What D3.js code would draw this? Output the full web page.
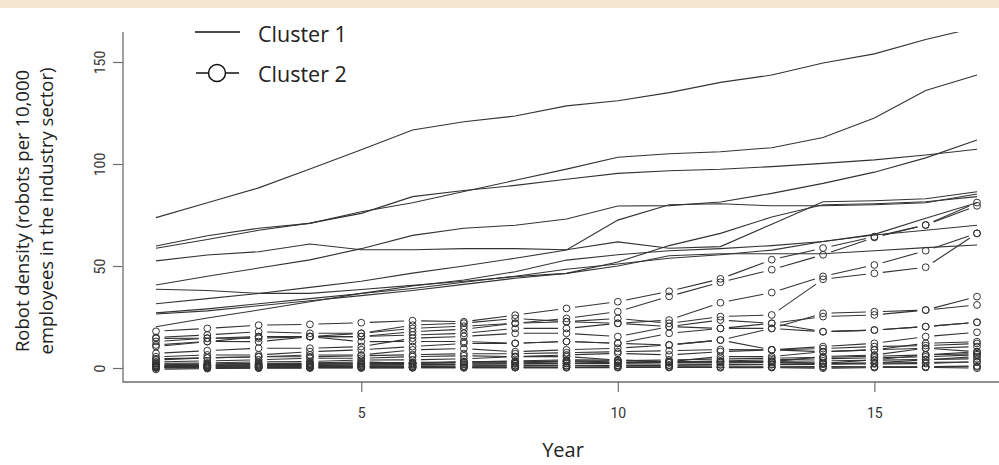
<!DOCTYPE html>
<html>
<head>
<meta charset="utf-8">
<script src="https://cdn.jsdelivr.net/npm/d3@7"></script>
<style>
    body { margin: 0; background: #fff; }
    svg { display: block; }
</style>
</head>
<body>
<svg id="chart" width="999" height="465"></svg>
<script>
// Years on the x axis
const years = d3.range(1, 18);
const xTicks = [5, 10, 15];
const yTicks = [0, 50, 100, 150];

// --- Cluster 1: plain lines ---
const c1a = [73.7, 81, 88.3, 97.5, 107, 116.7, 120.7, 123.5, 128.5, 131, 135, 140, 143.6, 149.5, 154, 161, 167];
const c1b = [59.8, 64.8, 68.5, 70.9, 76.6, 81, 86.5, 92, 97.5, 103.3, 105, 106, 108, 113, 122.5, 136, 143.6];
const c1c = [58.7, 63, 67.5, 71, 75.8, 84, 87, 89.5, 92.5, 95.4, 96.7, 97.4, 98.7, 100.3, 102, 104.4, 107.2];
const c1d = [40.7, 45, 49, 53, 58.5, 65, 68.5, 70, 73, 79.4, 79.6, 81.4, 85.6, 90.5, 96, 103, 111.8];
const c1e = [52.5, 55.4, 57, 60.8, 58, 58, 58.5, 58.5, 58, 61.8, 58.7, 59.5, 70.5, 81.5, 82, 83, 86.4];
const c1f = [38.6, 38, 36.6, 36.6, 38.5, 40.5, 42.5, 44.8, 46.4, 50, 55, 56, 56, 56, 57.5, 59, 60.3];
const c1g = [31.5, 34, 36.5, 39.5, 42.5, 46.5, 50, 53.8, 57.8, 72.5, 80, 80.5, 79.5, 79.5, 80, 81, 85.3];
const c1h = [27, 29, 31.5, 34, 36.5, 39, 42, 45, 48.4, 51, 53.8, 55.5, 57.8, 62, 65.2, 67.5, 70];
const c1i = [26.5, 28, 30.5, 33, 35.5, 38, 41, 44, 46.4, 52, 60, 66, 74, 80, 80.5, 81.5, 84];
const c1j = [20.2, 24.5, 28.4, 32.5, 36.6, 40.2, 43.1, 47.2, 52.9, 55.5, 57.5, 58.5, 60, 62, 65.5, 73.4, 81];
const cluster1 = [c1a, c1b, c1c, c1d, c1e, c1f, c1g, c1h, c1i, c1j];

// --- Cluster 2: points joined by broken lines ---
const c2a = [18, 19.4, 21, 21.4, 22.2, 23.2, 22.7, 25.9, 29.2, 32.5, 37.6, 43.7, 53.1, 58.8, 64.4, 70.1, 81.1];
const c2b = [15, 16.2, 17.8, 17, 17, 19.4, 20.5, 21.9, 24.3, 27.6, 35.1, 42, 48.2, 55.5, 64, 70.1, 79.5];
const c2c = [11.3, 13, 12.9, 15.4, 15.4, 16.2, 17, 19.4, 19.4, 21.9, 23.5, 32, 37, 44.9, 50.5, 57.5, 66];
const c2d = [10.5, 12.9, 15.4, 15.4, 15.4, 17.8, 19, 21.9, 22.7, 24.3, 21.9, 25.2, 26, 43.5, 46.4, 49.4, 66];
const c2e = [7.2, 8.5, 9.7, 9.7, 10.5, 14.6, 15.5, 17, 17, 15.4, 20.3, 23.5, 21.9, 25.2, 26, 28.4, 35];
const c2f = [5.5, 6.4, 6.4, 8, 8.9, 10.5, 12, 12.1, 13, 12.1, 17, 19.4, 19.4, 26.8, 27.6, 28.4, 30.9];
const c2g = [3.9, 5, 5.5, 6.4, 6.4, 8.9, 9.5, 8, 8.9, 9.7, 11.3, 13.7, 19.4, 17.8, 18.6, 20.3, 22.4];
const c2h = [3, 3.5, 4, 4.8, 4.8, 5.6, 6, 5.6, 6.4, 7.2, 6.4, 8, 8.9, 10.5, 12.1, 15.4, 17.5];
const c2i = [2.3, 2.5, 3, 3.2, 3.9, 4, 4.5, 5.6, 5.6, 3.9, 3.1, 5.6, 5.6, 8, 8.9, 12.1, 12.9];
const c2j = [1.5, 2, 2.3, 2.5, 3, 2.3, 3, 3.5, 4, 3.9, 3.1, 3.1, 3.1, 5.6, 6.4, 9.7, 10.5];
const c2k = [1, 1.2, 1.5, 1.8, 2, 2.3, 2.5, 2.5, 3, 2.5, 3.1, 3.1, 3.1, 2.3, 4, 6.4, 8];
const c2l = [0.6, 0.8, 1, 1.2, 1.4, 1.5, 1.8, 2, 2.2, 2.3, 2.5, 2.5, 2.7, 2.3, 2.5, 4, 5.6];
const c2m = [0.3, 0.4, 0.5, 0.6, 0.7, 0.8, 0.9, 1, 1.1, 1.2, 1.3, 1.5, 1.6, 1.8, 2, 2.2, 3.1];
const c2n = [0.1, 0.1, 0.2, 0.2, 0.3, 0.3, 0.4, 0.5, 0.5, 0.6, 0.6, 0.6, 0.6, 0.8, 0.6, 0.6, 1];
const c2o = [-0.7, -0.3, 0, 0, 0, 0.1, 0.1, 0.2, 0.2, 0.3, 0.3, 0.3, 0.4, 0.4, 0.5, 0.5, 0.6];
const c2p = [0, 0, 0, 0.1, 0.1, 0.1, 0.2, 0.2, 0.2, 0.2, 0.3, 0.2, 0.2, -0.1, 0.2, 0.3, -0.1];
const c2q = [2, 1.8, 2, 2.2, 2.5, 2.7, 3, 3.2, 3.5, 3, 3, 3.5, 4, 4.5, 5, 5.5, 6.5];
const c2r = [4.5, 5, 5.5, 5.5, 6, 6.5, 7, 7, 7.5, 8, 8.5, 9, 8.9, 9.5, 10.5, 11, 12];
const c2s = [13, 14.6, 14.6, 15.4, 12.9, 13, 13, 12.1, 13, 12.1, 11.3, 13.7, 8.9, 8, 8.9, 9.7, 8];
const c2t = [14.5, 14.6, 15.4, 15.4, 17, 21, 22, 24.3, 22.7, 21.9, 20.3, 19.4, 21.9, 17.8, 18.6, 20.3, 22.4];
const c2u = [0.8, 1, 1.1, 1.3, 1.5, 1.7, 1.9, 2.1, 2.3, 2.6, 2.8, 3, 3.3, 3.5, 3.8, 4.2, 4.5];
const c2v = [1.2, 1.4, 1.6, 1.8, 2.2, 2.4, 2.8, 3, 3.3, 3.6, 4, 4.4, 4.8, 5.2, 5.8, 6.4, 7];
const c2w = [0.4, 0.5, 0.6, 0.7, 0.8, 0.9, 1, 1.2, 1.3, 1.4, 1.5, 1.7, 1.9, 2.1, 2.4, 2.7, 3];
const cluster2 = [c2a, c2b, c2c, c2d, c2e, c2f, c2g, c2h, c2i, c2j, c2k, c2l,
                  c2m, c2n, c2o, c2p, c2q, c2r, c2s, c2t, c2u, c2v, c2w];

const LINE = '#333';
const AXIS = '#6e6e6e';
const NARROW = '"Liberation Sans Narrow", "Roboto", sans-serif';
const LABEL = '"Open Sans", "Noto Sans", sans-serif';

const svg = d3.select('#chart');

// beige strip along the top of the picture
svg.append('rect')
    .attr('x', 0).attr('y', 0)
    .attr('width', 999).attr('height', 8)
    .attr('fill', '#f4e6cf');

const x = d3.scaleLinear().domain([1, 17]).range([156, 977]);
const y = d3.scaleLinear().domain([0, 150]).range([368, 62]);

// plot region, lines are clipped to it
svg.append('clipPath').attr('id', 'plotClip')
    .append('rect')
    .attr('x', 123).attr('y', 32)
    .attr('width', 876).attr('height', 350);

const plot = svg.append('g').attr('clip-path', 'url(#plotClip)');

// Cluster 1 lines
const lineGenerator = d3.line()
    .x((d, i) => x(years[i]))
    .y(d => y(d));

plot.selectAll('path.c1')
    .data(cluster1)
    .enter()
    .append('path')
    .attr('class', 'c1')
    .attr('d', lineGenerator)
    .attr('fill', 'none')
    .attr('stroke', LINE)
    .attr('stroke-width', 1.1);

// Cluster 2: R style type="b" - segments stop short of each point
const gap = 8.5;
function brokenSegments(values) {
    const segs = [];
    for (let i = 0; i < values.length - 1; i++) {
        const x1 = x(years[i]), y1 = y(values[i]);
        const x2 = x(years[i + 1]), y2 = y(values[i + 1]);
        const len = Math.hypot(x2 - x1, y2 - y1);
        if (len <= 2 * gap) continue;
        const ux = (x2 - x1) / len, uy = (y2 - y1) / len;
        segs.push({
            x1: x1 + ux * gap, y1: y1 + uy * gap,
            x2: x2 - ux * gap, y2: y2 - uy * gap
        });
    }
    return segs;
}

cluster2.forEach(series => {
    const g = plot.append('g');
    g.selectAll('line')
        .data(brokenSegments(series))
        .enter()
        .append('line')
        .attr('x1', d => d.x1).attr('y1', d => d.y1)
        .attr('x2', d => d.x2).attr('y2', d => d.y2)
        .attr('stroke', LINE)
        .attr('stroke-width', 1.1);
    g.selectAll('circle')
        .data(series)
        .enter()
        .append('circle')
        .attr('cx', (d, i) => x(years[i]))
        .attr('cy', d => y(d))
        .attr('r', 3.4)
        .attr('fill', 'none')
        .attr('stroke', LINE)
        .attr('stroke-width', 1);
});

// --- Axes ---
svg.append('path')
    .attr('d', 'M123,32V382H999')
    .attr('fill', 'none')
    .attr('stroke', AXIS)
    .attr('stroke-width', 1.3);

const yAxis = svg.append('g')
    .attr('transform', 'translate(123,0)')
    .call(d3.axisLeft(y).tickValues(yTicks).tickSize(10));
yAxis.select('.domain').remove();
yAxis.selectAll('line').attr('stroke', AXIS).attr('stroke-width', 1.2);
yAxis.selectAll('text')
    .attr('x', 0).attr('y', -18).attr('dy', 0)
    .attr('transform', 'rotate(-90)')
    .style('text-anchor', 'middle')
    .style('font-family', NARROW)
    .style('font-size', '14px')
    .attr('fill', '#333');

const xAxis = svg.append('g')
    .attr('transform', 'translate(0,382)')
    .call(d3.axisBottom(x).tickValues(xTicks).tickSize(10).tickPadding(16));
xAxis.select('.domain').remove();
xAxis.selectAll('line').attr('stroke', AXIS).attr('stroke-width', 1.2);
xAxis.selectAll('text')
    .style('font-family', NARROW)
    .style('font-size', '14px')
    .attr('fill', '#333');

// axis titles
svg.append('text')
    .attr('x', 563).attr('y', 457)
    .attr('text-anchor', 'middle')
    .style('font-family', LABEL)
    .style('font-size', '20px')
    .attr('fill', '#222')
    .text('Year');

const yTitle = ['Robot density (robots per 10,000', 'employees in the industry sector)'];
svg.selectAll('text.ytitle')
    .data(yTitle)
    .enter()
    .append('text')
    .attr('class', 'ytitle')
    .attr('transform', (d, i) => `translate(${29 + i * 24},211) rotate(-90)`)
    .attr('text-anchor', 'middle')
    .style('font-family', LABEL)
    .style('font-size', '18.5px')
    .attr('fill', '#222')
    .text(d => d);

// --- Legend ---
const legend = svg.append('g');
legend.append('line')
    .attr('x1', 195).attr('x2', 240).attr('y1', 32).attr('y2', 32)
    .attr('stroke', '#111').attr('stroke-width', 1.5);
legend.append('line')
    .attr('x1', 196).attr('x2', 208).attr('y1', 73).attr('y2', 73)
    .attr('stroke', '#111').attr('stroke-width', 1.5);
legend.append('line')
    .attr('x1', 226).attr('x2', 239).attr('y1', 73).attr('y2', 73)
    .attr('stroke', '#111').attr('stroke-width', 1.5);
legend.append('circle')
    .attr('cx', 217).attr('cy', 73).attr('r', 8.5)
    .attr('fill', 'none').attr('stroke', '#111').attr('stroke-width', 1.5);
legend.selectAll('text')
    .data(['Cluster 1', 'Cluster 2'])
    .enter()
    .append('text')
    .attr('x', 258)
    .attr('y', (d, i) => 42 + i * 40)
    .style('font-family', LABEL)
    .style('font-size', '21.5px')
    .attr('fill', '#222')
    .text(d => d);
</script>
</body>
</html>
